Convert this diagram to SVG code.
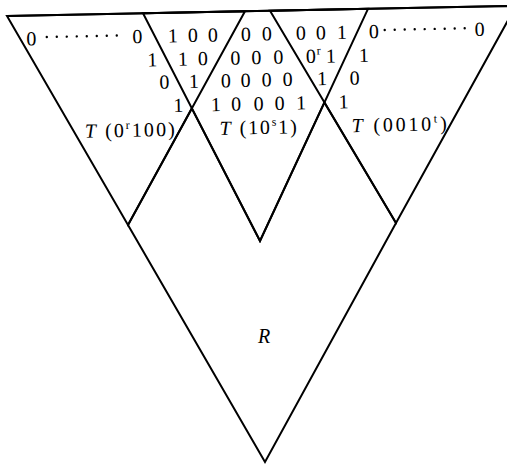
<svg xmlns="http://www.w3.org/2000/svg" width="507" height="466" viewBox="0 0 507 466">
<style>
.edge{fill:none;stroke:#000;stroke-width:2;stroke-linejoin:miter}
.d{font-family:"Liberation Serif","DejaVu Serif",serif;font-size:20px;fill:#000;text-anchor:middle}
.lab{font-family:"Liberation Serif","DejaVu Serif",serif;font-size:20px;fill:#000}
.it{font-style:italic}
.sup{font-size:12px}
.dots{stroke:#000;stroke-width:2.4;stroke-linecap:round;stroke-dasharray:0 10}
</style>
<rect width="507" height="466" fill="#fff"/>
<g id="connectors">
<line class="edge" x1="7" y1="16" x2="516" y2="5.8" stroke-width="2.4"/>
</g>
<g id="T-left">
<polygon class="edge" points="7,16 245,11.2 128,225"/>
</g>
<g id="T-middle">
<polygon class="edge" points="143,13.3 368,8.8 260,241"/>
</g>
<g id="T-right">
<polygon class="edge" points="270,10.7 516,5.8 396,223"/>
</g>
<g id="R">
<polygon class="edge" points="128,225 265,462 396,223 324.4,102.4 260,241 191.8,108.4"/>
<text class="lab it" x="258" y="343">R</text>
</g>
<g id="labels" transform="rotate(-1.2)">
<line class="dots" x1="46" y1="38" x2="126" y2="38"/>
<line class="dots" x1="384" y1="38" x2="468" y2="38"/>
<g class="d">
<text x="30.5" y="46">0</text>
<text x="136.5" y="46">0</text>
<text x="172" y="46">1</text>
<text x="192" y="46">0</text>
<text x="212" y="46">0</text>
<text x="245" y="46">0</text>
<text x="266" y="46">0</text>
<text x="300" y="46">0</text>
<text x="320" y="46">0</text>
<text x="341" y="46">1</text>
<text x="373" y="46">0</text>
<text x="479" y="46">0</text>

<text x="151" y="69.5">1</text>
<text x="181.5" y="69.5">1</text>
<text x="201.5" y="69.5">0</text>
<text x="234" y="69.5">0</text>
<text x="255" y="69.5">0</text>
<text x="277" y="69.5">0</text>
<text x="309.5" y="69.5">0</text>
<text x="317.5" y="61" class="sup">r</text>
<text x="329.5" y="69.5">1</text>
<text x="362.5" y="69.5">1</text>

<text x="162.6" y="92">0</text>
<text x="192" y="92">1</text>
<text x="224" y="92">0</text>
<text x="244" y="92">0</text>
<text x="265" y="92">0</text>
<text x="286" y="92">0</text>
<text x="320.5" y="92">1</text>
<text x="353" y="92">0</text>

<text x="176" y="115.7">1</text>
<text x="213.5" y="115.7">1</text>
<text x="234" y="115.7">0</text>
<text x="256.5" y="115.7">0</text>
<text x="277.5" y="115.7">0</text>
<text x="299" y="115.7">1</text>
<text x="341.5" y="115.7">1</text>
</g>
<text class="lab" x="82" y="139.5" textLength="90" lengthAdjust="spacing"><tspan class="it">T</tspan> (0<tspan class="sup" dy="-8">r</tspan><tspan dy="8">100)</tspan></text>
<text class="lab" x="217" y="139.5" textLength="77" lengthAdjust="spacing"><tspan class="it">T</tspan> (10<tspan class="sup" dy="-8">s</tspan><tspan dy="8">1)</tspan></text>
<text class="lab" x="349" y="139.5" textLength="95" lengthAdjust="spacing"><tspan class="it">T</tspan> (0010<tspan class="sup" dy="-8">t</tspan><tspan dy="8">)</tspan></text>
</g>
</svg>
